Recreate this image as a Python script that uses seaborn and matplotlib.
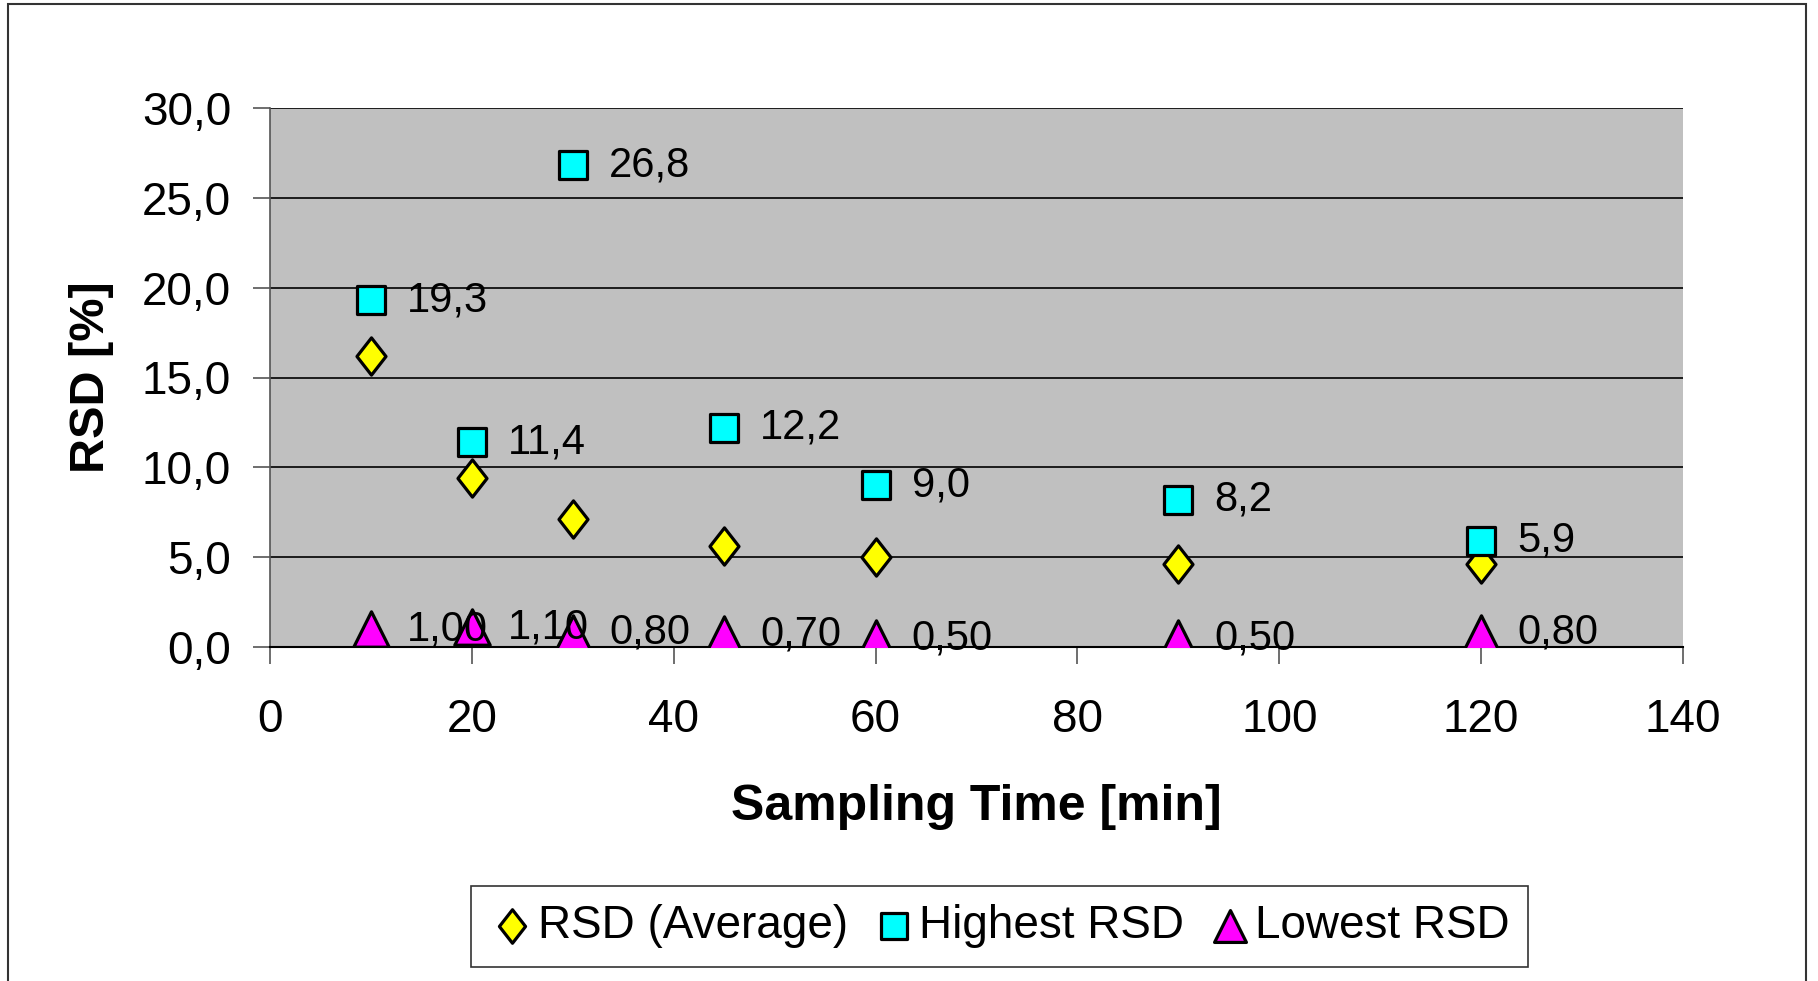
import numpy as np
import pandas as pd
import seaborn as sns
import matplotlib
matplotlib.use("Agg")
import matplotlib.pyplot as plt
from matplotlib.path import Path
from matplotlib.patches import Rectangle
from matplotlib.ticker import FuncFormatter

# ---- data ----
sampling_time = [10, 20, 30, 45, 60, 90, 120]
rsd_average = [16.2, 9.4, 7.1, 5.6, 5.0, 4.6, 4.6]
rsd_highest = [19.3, 11.4, 26.8, 12.2, 9.0, 8.2, 5.9]
rsd_lowest = [1.00, 1.10, 0.80, 0.70, 0.50, 0.50, 0.80]
series_names = ["RSD (Average)", "Highest RSD", "Lowest RSD"]
x_ticks = [0, 20, 40, 60, 80, 100, 120, 140]
y_ticks = [0, 5, 10, 15, 20, 25, 30]

sns.set_theme(style="white")
plt.rcParams['font.family'] = ['Liberation Sans', 'DejaVu Sans']
plt.rcParams['text.color'] = 'black'
plt.rcParams['axes.labelcolor'] = 'black'
plt.rcParams['xtick.color'] = 'black'
plt.rcParams['ytick.color'] = 'black'

fig = plt.figure(figsize=(18.18, 9.81), dpi=100)
ax = fig.add_axes([270/1818, 1-647/981, (1683-270)/1818, (647-108)/981])
ax.set_facecolor("#C0C0C0")

diamond = Path([(0, 1), (0.78, 0), (0, -1), (-0.78, 0), (0, 1)],
               [Path.MOVETO, Path.LINETO, Path.LINETO, Path.LINETO, Path.CLOSEPOLY])

df = pd.DataFrame({"t": sampling_time, "avg": rsd_average,
                   "hi": rsd_highest, "lo": rsd_lowest})

sns.scatterplot(data=df, x="t", y="avg", marker=diamond, s=720, color="#FFFF00",
                edgecolor="black", linewidth=2.3, ax=ax, label=series_names[0], zorder=3)
sns.scatterplot(data=df, x="t", y="hi", marker="s", s=420, color="#00FFFF",
                edgecolor="black", linewidth=2.3, ax=ax, label=series_names[1], zorder=3)
sns.scatterplot(data=df, x="t", y="lo", marker="^", s=650, color="#FF00FF",
                edgecolor="black", linewidth=2.3, ax=ax, label=series_names[2], zorder=3)

# data labels
for t, v in zip(sampling_time, rsd_highest):
    ax.annotate(f"{v:.1f}".replace(".", ","), (t, v), xytext=(26, 0),
                textcoords="offset points", ha="left", va="center",
                fontsize=30, color="black", zorder=4)
for t, v in zip(sampling_time, rsd_lowest):
    ax.annotate(f"{v:.2f}".replace(".", ","), (t, v), xytext=(26, 0),
                textcoords="offset points", ha="left", va="center",
                fontsize=30, color="black", zorder=4)

ax.set_xlim(0, 140)
ax.set_ylim(0, 30)
ax.set_xticks(x_ticks)
ax.set_yticks(y_ticks)
ax.yaxis.set_major_formatter(FuncFormatter(lambda v, p: f"{v:.1f}".replace(".", ",")))
ax.grid(axis="y", color="black", linewidth=1.2)
ax.grid(axis="x", visible=False)
ax.set_axisbelow(True)
for side in ["top", "right"]:
    ax.spines[side].set_visible(False)
ax.spines["left"].set_color("#555555")
ax.spines["left"].set_linewidth(1.2)
ax.spines["bottom"].set_color("black")
ax.spines["bottom"].set_linewidth(1.5)
ax.tick_params(axis="x", direction="out", length=12, width=1.2, color="#555555",
               labelsize=33, pad=25, bottom=True, labelcolor="black")
ax.tick_params(axis="y", direction="out", length=12, width=1.2, color="#555555",
               labelsize=33, pad=16, left=True, labelcolor="black")

ax.set_xlabel("Sampling Time [min]", fontsize=36, fontweight="bold", labelpad=30,
              color="black")
ax.set_ylabel("RSD [%]", fontsize=35, fontweight="bold", labelpad=20, color="black")

# legend
handles, labels = ax.get_legend_handles_labels()
ax.get_legend().remove()
leg = fig.legend(handles, labels, loc="center", bbox_to_anchor=(862/1568, 1-799/846),
                 ncol=3, fontsize=33, frameon=True, fancybox=False,
                 handletextpad=0.05, columnspacing=0.5, borderpad=0.4,
                 handlelength=1.0, markerscale=0.9)
leg.get_frame().set_edgecolor("black")
leg.get_frame().set_linewidth(1.2)
for txt in leg.get_texts():
    txt.set_color("black")

# outer chart border
fig.patches.append(Rectangle((8/1818, -0.05), (1806-8)/1818, 1.05-4/981,
                             transform=fig.transFigure, fill=False,
                             edgecolor="#333333", linewidth=1.5))

fig.savefig("out.png", dpi=100)
